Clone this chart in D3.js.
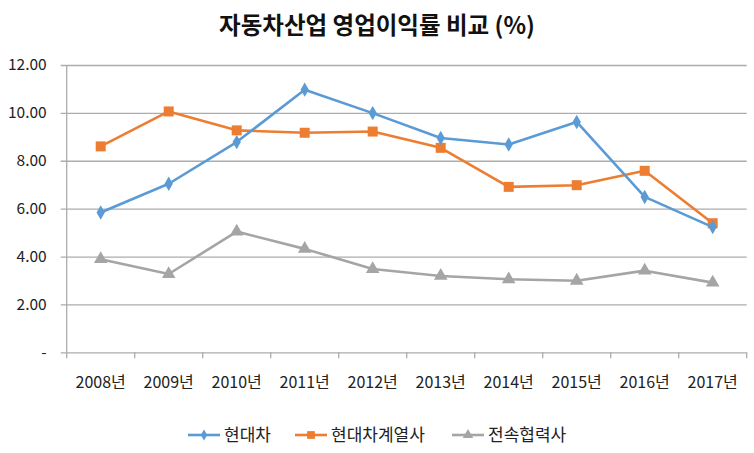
<!DOCTYPE html>
<html><head><meta charset="utf-8">
<script src="https://cdn.jsdelivr.net/npm/d3@7"></script>
<style>body{margin:0;background:#fff;}svg{display:block;}</style>
</head><body>
<svg id="c" width="754" height="453"></svg>
<script>
const categories = ["2008년","2009년","2010년","2011년","2012년","2013년","2014년","2015년","2016년","2017년"];
const hyundai = [5.84,7.04,8.78,10.97,9.99,8.95,8.68,9.62,6.49,5.23];
const affiliates = [8.60,10.06,9.27,9.17,9.22,8.54,6.91,6.98,7.58,5.39];
const suppliers = [3.89,3.27,5.04,4.32,3.48,3.19,3.05,2.99,3.41,2.91];
const seriesNames = ["현대차","현대차계열사","전속협력사"];
const yTicks = [0,2,4,6,8,10,12];
const title = "자동차산업 영업이익률 비교 (%)";

const svg = d3.select("#c");
const font = "'Noto Sans CJK KR','Noto Sans',sans-serif";
const pL = 66.7, pR = 746.7, pT = 65, pB = 352.3;
const x = d3.scaleBand().domain(categories).range([pL, pR]);
const y = d3.scaleLinear().domain([0,12]).range([pB, pT]);
const gridColor = "#acacac";

svg.append("text").attr("x",377).attr("y",34).attr("text-anchor","middle")
  .attr("font-family",font).attr("font-weight","bold").attr("font-size",23.5).attr("fill","#111").text(title);

// y axis / grid
const ya = svg.append("g").attr("transform",`translate(${pL},0)`)
  .call(d3.axisLeft(y).tickValues(yTicks).tickSize(-(pR-pL)).tickPadding(20)
    .tickFormat(d => d===0 ? "-" : d3.format(".2f")(d)));
ya.select(".domain").remove();
ya.selectAll(".tick line").attr("stroke",gridColor).attr("stroke-width",1.3).attr("x1",-6).attr("x2",pR-pL);
ya.selectAll(".tick text").attr("font-family",font).attr("font-size",15.5).attr("fill","#222");

// vertical axis line
svg.append("line").attr("x1",pL).attr("x2",pL).attr("y1",pT).attr("y2",pB).attr("stroke",gridColor).attr("stroke-width",1.3);

// x axis
const xa = svg.append("g").attr("transform",`translate(0,${pB})`)
  .call(d3.axisBottom(x).tickSize(0).tickPadding(24));
xa.select(".domain").remove();
xa.selectAll(".tick text").attr("font-family",font).attr("font-size",16).attr("fill","#222");
const edges = categories.map(c => x(c)).concat([pR]);
svg.append("g").selectAll("line").data(edges).join("line")
  .attr("x1",d=>d).attr("x2",d=>d).attr("y1",pB).attr("y2",pB+6)
  .attr("stroke",gridColor).attr("stroke-width",1.3);

const series = [
  {name:seriesNames[0], values:hyundai, color:"#5b9bd5", sym:d3.symbolDiamond, size:60},
  {name:seriesNames[1], values:affiliates, color:"#ed7d31", sym:d3.symbolSquare, size:100},
  {name:seriesNames[2], values:suppliers, color:"#a5a5a5", sym:d3.symbolTriangle, size:80}
];
const cx = c => x(c) + x.bandwidth()/2;
const line = d3.line().x((d,i)=>cx(categories[i])).y(d=>y(d));
series.slice().reverse().forEach(s => {
  const g = svg.append("g");
  g.append("path").attr("d",line(s.values)).attr("fill","none").attr("stroke",s.color).attr("stroke-width",2.6).attr("stroke-linejoin","round");
  g.selectAll("path.m").data(s.values).join("path").attr("class","m")
    .attr("transform",(d,i)=>`translate(${cx(categories[i])},${y(d)})`)
    .attr("d",d3.symbol().type(s.sym).size(s.size)).attr("fill",s.color);
});

// legend
const legX = [188, 295, 452];
series.forEach((s,i) => {
  const g = svg.append("g").attr("transform",`translate(${legX[i]},435)`);
  g.append("line").attr("x1",0).attr("x2",32).attr("stroke",s.color).attr("stroke-width",2.6);
  g.append("path").attr("transform","translate(16,0)").attr("d",d3.symbol().type(s.sym).size(s.size*0.6)).attr("fill",s.color);
  g.append("text").attr("x",36).attr("y",6).attr("font-family",font).attr("font-size",17).attr("fill","#222").text(s.name);
});
</script>
</body></html>
